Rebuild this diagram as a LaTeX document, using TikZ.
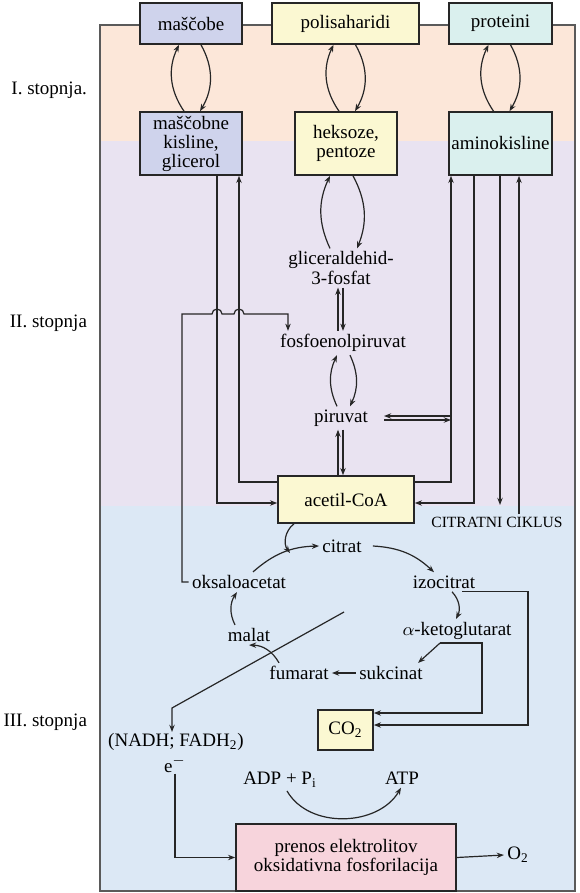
\documentclass[tikz,border=0pt]{standalone}
\usepackage{fontspec}
\setmainfont{Liberation Serif}
\usetikzlibrary{arrows.meta, positioning, calc}
\definecolor{stageone}{RGB}{252,231,217}
\definecolor{stagetwo}{RGB}{233,227,241}
\definecolor{stagethree}{RGB}{220,232,245}
\definecolor{fatbox}{RGB}{207,211,236}
\definecolor{sugarbox}{RGB}{251,248,210}
\definecolor{protbox}{RGB}{218,240,238}
\definecolor{energybox}{RGB}{247,212,220}
\definecolor{framegray}{RGB}{90,90,90}

\begin{document}
\begin{tikzpicture}[x=0.5pt, y=-0.5pt, >={Stealth[length=3.6pt, width=2.7pt]},
  every node/.style={font=\fontsize{9.5}{9.5}\selectfont},
  box/.style={draw=black!85, line width=0.8pt, rectangle, align=center, inner sep=1pt},
  lbl/.style={align=center, inner sep=1.5pt},
  flow/.style={->, line width=0.6pt, black!85}]
  \useasboundingbox (0,0) rectangle (579,893);

  % Background shading - the three stages
  \fill[stageone] (100,25) rectangle (575,141);
  \fill[stagetwo] (100,141) rectangle (575,506);
  \fill[stagethree] (100,506) rectangle (575,891);
  \draw[framegray, line width=1pt] (100,25) rectangle (575,891);

  % Stage labels
  \node[anchor=east] (stage1) at (94,90) {I. stopnja.};
  \node[anchor=east] (stage2) at (94,323) {II. stopnja};
  \node[anchor=east] (stage3) at (94,722) {III. stopnja};

  % Macromolecules
  \node[box, fill=fatbox, minimum width=51pt, minimum height=20.5pt] (fat) at (191,23.5) {maščobe};
  \node[box, fill=sugarbox, minimum width=73.5pt, minimum height=20.5pt] (poly) at (345.5,23.5) {polisaharidi};
  \node[box, fill=protbox, minimum width=51.5pt, minimum height=20.5pt] (prot) at (500.5,23.5) {proteini};

  % Building blocks
  \node[box, fill=fatbox, minimum width=51pt, minimum height=31.5pt] (fatacid) at (191,143.5) {maščobne\\kisline,\\glicerol};
  \node[box, fill=sugarbox, minimum width=51pt, minimum height=31.5pt] (hexose) at (346,143.5) {heksoze,\\pentoze};
  \node[box, fill=protbox, minimum width=51.5pt, minimum height=31.5pt] (amino) at (500.5,143.5) {aminokisline};

  % Glycolysis and acetil-CoA
  \node[lbl] (gap) at (341,268) {gliceraldehid-\\3-fosfat};
  \node[lbl] (pep) at (343,343) {fosfoenolpiruvat};
  \node[lbl] (pyr) at (341,418) {piruvat};
  \node[box, fill=sugarbox, minimum width=68pt, minimum height=23.5pt] (acoa) at (346,499.5) {acetil-CoA};
  \node[lbl, font=\fontsize{7.8}{8}\selectfont] (citric) at (497,522) {CITRATNI CIKLUS};

  % Citric acid cycle
  \node[lbl] (cit) at (342,546) {citrat};
  \node[lbl] (isocit) at (444,582) {izocitrat};
  \node[lbl] (akg) at (457,631) {$\alpha$-ketoglutarat};
  \node[lbl] (succ) at (391,673) {sukcinat};
  \node[lbl] (fum) at (299,673) {fumarat};
  \node[lbl] (mal) at (249,635) {malat};
  \node[lbl] (oxal) at (239,582) {oksaloacetat};
  \node[box, fill=sugarbox, minimum width=27.5pt, minimum height=20pt] (co2) at (345.5,730) {CO\textsubscript{2}};

  % Oxidative phosphorylation
  \node[lbl, inner sep=0.5pt] (nadh) at (176,742) {(NADH; FADH\textsubscript{2})};
  \node[lbl, inner sep=0.5pt] (elec) at (175,764) {e$^-$};
  \node[lbl] (adp) at (280,780) {ADP + P\textsubscript{i}};
  \node[lbl] (atp) at (402,778) {ATP};
  \node[box, fill=energybox, minimum width=110pt, minimum height=33.5pt] (resp) at (346,857.5) {prenos elektrolitov\\oksidativna fosforilacija};
  \node[lbl] (otwo) at (518,855) {O\textsubscript{2}};

  \coordinate (aminoup) at ([xshift=-24.75pt]amino.south);
  \coordinate (cycleout) at (500,505);
  \coordinate (cyclein) at (519,514);
  \coordinate (condense) at (290,553);
  \coordinate (redox) at (344,612);

  % Stage I arrows
  \draw[flow] ([xshift=-3.5pt]fatacid.north) to[bend left=30] ([xshift=-6pt]fat.south);
  \draw[flow] ([xshift=5pt]fat.south) to[bend left=30] ([xshift=4.5pt]fatacid.north);
  \draw[flow] ([xshift=-3.5pt]hexose.north) to[bend left=30] ([xshift=-6pt]poly.south);
  \draw[flow] ([xshift=5pt]poly.south) to[bend left=30] ([xshift=4.5pt]hexose.north);
  \draw[flow] ([xshift=-3.5pt]amino.north) to[bend left=30] ([xshift=-6pt]prot.south);
  \draw[flow] ([xshift=5pt]prot.south) to[bend left=30] ([xshift=4.5pt]amino.north);

  % Stage II arrows
  \draw[flow] ([xshift=-5.5pt]gap.north) to[bend left=25] ([xshift=-8pt]hexose.south);
  \draw[flow] ([xshift=3.5pt]hexose.south) to[bend left=25] ([xshift=8pt]gap.north);
  \draw[flow] ([xshift=-1.5pt]gap.south |- pep.north) -- ([xshift=-1.5pt]gap.south);
  \draw[flow] ([xshift=1pt]gap.south) -- ([xshift=1pt]gap.south |- pep.north);
  \draw[flow] ([xshift=-2pt]pyr.north) to[bend left=25] ([xshift=-2pt]pyr.north |- pep.south);
  \draw[flow] ([xshift=4.5pt]pyr.north |- pep.south) to[bend left=25] ([xshift=4.5pt]pyr.north);
  \draw[flow] ([xshift=-1.5pt]pyr.south |- acoa.north) -- ([xshift=-1.5pt]pyr.south);
  \draw[flow] ([xshift=1pt]pyr.south) -- ([xshift=1pt]pyr.south |- acoa.north);
  \draw[flow] (aminoup |- pyr.east) ++(0,-2) -- ++(-67,0);
  \draw[flow] (aminoup |- pyr.east) ++(-67,2) -- ++(67,0);

  % Routes to and from acetil-CoA
  \draw[flow] ([xshift=13pt]fatacid.south) |- ([yshift=-1.75pt]acoa.west);
  \draw[flow] ([yshift=8.75pt]acoa.west) -| ([xshift=24pt]fatacid.south);
  \draw[flow] ([yshift=8.75pt]acoa.east) -| (aminoup);
  \draw[flow] ([xshift=-13.25pt]amino.south) |- ([yshift=-1.75pt]acoa.east);
  \draw[flow] (amino.south -| cycleout) -- (cycleout);
  \draw[flow] (cyclein) -- (cyclein |- amino.south);

  % Oksaloacetat back to fosfoenolpiruvat, hopping over two lines
  \draw[flow] (oxal.west) -| (182,314) -- (212,314) arc[start angle=180, end angle=0, radius=2.5pt]
    -- (234,314) arc[start angle=180, end angle=0, radius=2.5pt] -| ([xshift=-27.5pt]pep.north);

  % Citric acid cycle arrows
  \draw[flow] ([xshift=-26pt]acoa.south) to[bend right=45] (condense);
  \draw[flow] ([xshift=7pt]oxal.north) to[bend left=20] (cit.west);
  \draw[flow] ([xshift=4pt]cit.east) to[bend left=20] ([xshift=-5pt]isocit.north);
  \draw[flow] ([xshift=4pt]isocit.south) to[bend left=35] ([xshift=-0.5pt]akg.north);
  \draw[flow] ([xshift=-8.5pt]akg.south) -- ([xshift=-4pt]succ.north east);
  \draw[flow] (succ.west) -- (fum.east);
  \draw[flow] ([xshift=-10pt]fum.north) to[bend right=30] (mal.south);
  \draw[flow] ([xshift=-7pt]mal.north) to[bend left=30] ([xshift=-1pt]oxal.south);
  \draw[flow] ([xshift=9pt]isocit.south) -- ++(66,0) |- ([yshift=2.5pt]co2.east);
  \draw[flow] ([xshift=-8.5pt]akg.south) -- ++(42,0) |- ([yshift=8.5pt]co2.east);

  % Electrons to the respiratory chain
  \draw[flow] (redox) -- ([xshift=-2pt, yshift=12pt]nadh.north) -- ([xshift=-2pt]nadh.north);
  \draw[flow] (elec.south) |- (resp.west);
  \draw[flow] ([xshift=3.5pt]adp.south) to[out=-60, in=-120] ([xshift=-0.5pt]atp.south);
  \draw[flow] (resp.east) -- (otwo.west);
\end{tikzpicture}
\end{document}
